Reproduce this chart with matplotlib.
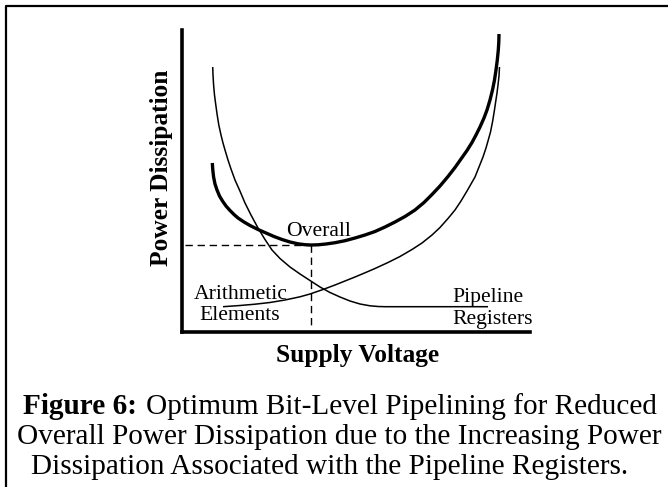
import matplotlib
matplotlib.use("Agg")
import matplotlib.pyplot as plt
from matplotlib.lines import Line2D

# ---------------- data (arbitrary units) -------------
# voltage axis runs 0..348, power axis 0..302 (no ticks in the original)
overall_v = [30.3, 30.8, 31.6, 33, 35, 37.5, 40.5, 44, 48, 52, 56, 62, 68, 76, 84, 92,
             100, 108, 116, 123, 129, 136, 144, 153, 163, 173, 183, 193, 203, 213,
             223, 233, 242, 250, 258, 266, 273, 279, 285, 290, 294, 298, 302, 305,
             308, 310.5, 312.5, 314, 315.3, 316.3, 316.8, 317]
overall_p = [169, 162, 155, 148, 142, 136, 131, 126, 121.5, 117.5, 114, 110, 106.5,
             102.5, 99, 95.5, 92.5, 90, 88.2, 87.3, 87, 87.2, 88, 89.3, 91.3, 94, 97,
             100.5, 105, 110, 115.5, 122, 129.5, 137.5, 146, 155.5, 164.5, 173, 181.5,
             189.5, 197, 205, 214, 222, 232, 242, 252, 262, 272, 282, 290, 298]

pipeline_v = [30.7, 31, 31.6, 32.5, 33.8, 35.2, 36.8, 39, 41, 43, 46, 49, 53, 57.5, 63,
              69, 76, 83, 90, 98, 108, 118, 128, 138, 148, 158, 168, 178, 188, 196,
              203, 306]
pipeline_p = [265, 257, 247, 237, 227, 217, 207, 197, 189, 182, 172, 163, 152, 142, 129,
              117, 104, 92.5, 82, 73.5, 65, 58, 51.5, 45, 39.5, 35, 31, 28, 26.2, 25.5,
              25.3, 25.3]

arith_v = [41, 58, 73, 88, 103, 118, 128, 141, 153, 163, 173, 183, 193, 206, 218, 230,
           240, 250, 258, 266, 273, 279, 285, 289, 293, 297, 301, 304, 306, 308.5,
           310.5, 312, 313.5, 315, 316, 317, 317.5]
arith_p = [25.3, 26.5, 27.8, 29.5, 32, 35.2, 38, 42.5, 47, 51, 55, 59.2, 63.5, 69.5,
           75.5, 82.5, 89, 97, 104.5, 113.5, 122, 131, 141, 148, 155, 165, 175, 184,
           191, 200, 210, 219, 229, 239, 247, 256, 265]

optimum_v = 129
optimum_p = 87

x_label = "Supply Voltage"
y_label = "Power Dissipation"
caption_bold = "Figure 6:"
caption_lines = ["Optimum Bit-Level Pipelining for Reduced",
                 "Overall Power Dissipation due to the Increasing Power",
                 "Dissipation Associated with the Pipeline Registers."]

# ---------------- figure ----------------
W, H = 668, 487
FONT = ["Liberation Serif", "DejaVu Serif"]
plt.rcParams["font.family"] = FONT
plt.rcParams["lines.scale_dashes"] = False
fig = plt.figure(figsize=(W / 100, H / 100), dpi=100)
fig.patch.set_facecolor("white")

def fx(x):
    return x / W

def fy(y):
    return 1 - y / H

# border (top and left visible)
fig.add_artist(Line2D([fx(5.5), fx(5.5), fx(700)], [fy(520), fy(5.7), fy(5.7)],
                      transform=fig.transFigure, color="black", lw=1.6))

X0, X1, Y0, Y1 = 182, 530, 332, 30
ax = fig.add_axes([fx(X0), fy(Y0), (X1 - X0) / W, (Y0 - Y1) / H])
ax.set_xlim(0, X1 - X0)
ax.set_ylim(0, Y0 - Y1)
for s in ("top", "right"):
    ax.spines[s].set_visible(False)
for s in ("left", "bottom"):
    ax.spines[s].set_linewidth(2.6)
    ax.spines[s].set_capstyle("projecting")
ax.set_xticks([])
ax.set_yticks([])
ax.patch.set_alpha(0)

kw = dict(color="black", solid_capstyle="butt", solid_joinstyle="round", clip_on=False)
ax.plot(overall_v, overall_p, lw=2.4, **kw)
ax.plot(pipeline_v, pipeline_p, lw=1.1, **kw)
ax.plot(arith_v, arith_p, lw=1.1, **kw)

ax.plot([3, optimum_v], [optimum_p, optimum_p], color="black", lw=1.0,
        dashes=(5.3, 3.4))
ax.plot([optimum_v, optimum_v], [optimum_p, 4], color="black", lw=1.0,
        dashes=(5.3, 3.4))

fig.canvas.draw()
R = fig.canvas.get_renderer()

def width(t, use_height=False):
    bb = t.get_window_extent(R)
    return bb.height if use_height else bb.width

def fit(t, target, use_height=False):
    for _ in range(4):
        t.set_fontsize(t.get_fontsize() * target / width(t, use_height))
    return t.get_fontsize()

def dv(px):
    return px - X0

def dp(py):
    return Y0 - py

# curve labels: one common size, fitted on "Arithmetic"
t_ar = ax.text(dv(240.3), dp(299), "Arithmetic", ha="center", va="baseline", fontsize=14)
fs = fit(t_ar, 94)
ax.text(dv(318.7), dp(236), "Overall", ha="center", va="baseline", fontsize=fs)
ax.text(dv(239.7), dp(320), "Elements", ha="center", va="baseline", fontsize=fs)
ax.text(dv(452), dp(301.7), "Pipeline", ha="left", va="baseline", fontsize=fs)
ax.text(dv(452.7), dp(324), "Registers", ha="left", va="baseline", fontsize=fs)

# axis labels
t = fig.text(fx(357.5), fy(361.7), x_label, ha="center", va="baseline",
             fontweight="bold", fontsize=15)
fsa = fit(t, 163)
fig.text(fx(168.3), fy(167.5), y_label, ha="center", va="baseline",
         rotation=90, rotation_mode="anchor", fontweight="bold", fontsize=fsa)

# caption: common size fitted on the widest line
t2 = fig.text(fx(339), fy(444.5), caption_lines[1], ha="center", va="baseline", fontsize=16)
fsc = fit(t2, 644)
fig.text(fx(329.5), fy(474.5), caption_lines[2], ha="center", va="baseline", fontsize=fsc)
tb = fig.text(0, fy(414), caption_bold, ha="left", va="baseline",
              fontweight="bold", fontsize=fsc)
tr = fig.text(0, fy(414), caption_lines[0], ha="left", va="baseline", fontsize=fsc)
gap = 9.7
total = width(tb) + gap + width(tr)
start = 340 - total / 2
tb.set_x(fx(start))
tr.set_x(fx(start + width(tb) + gap))

fig.savefig("out.png", dpi=100, facecolor="white")
